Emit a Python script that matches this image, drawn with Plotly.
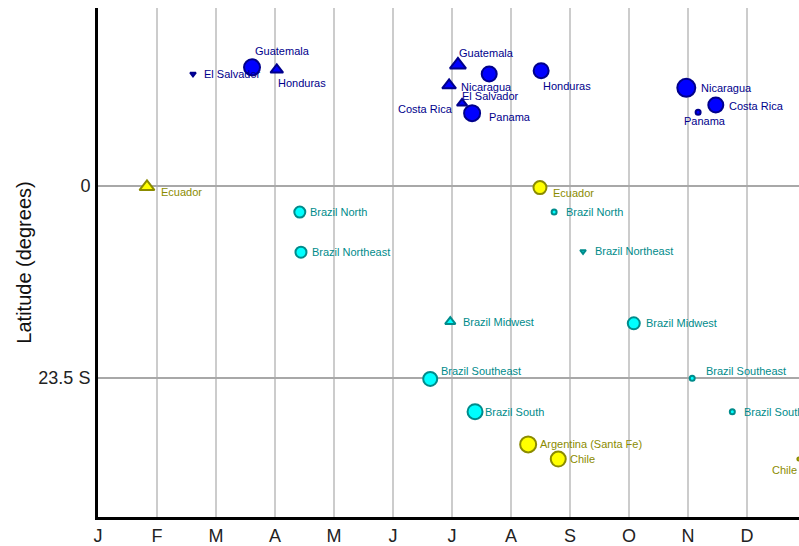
import plotly.graph_objects as go

# ---- data ----
month_labels = ["J", "F", "M", "A", "M", "J", "J", "A", "S", "O", "N", "D"]

names = ["El Salvador", "Guatemala", "Honduras",
         "Guatemala", "Nicaragua", "El Salvador", "Costa Rica", "Panama", "Honduras",
         "Nicaragua", "Costa Rica", "Panama",
         "Ecuador", "Ecuador",
         "Brazil North", "Brazil Northeast", "Brazil North", "Brazil Northeast",
         "Brazil Midwest", "Brazil Midwest", "Brazil Southeast", "Brazil Southeast",
         "Brazil South", "Brazil South",
         "Argentina (Santa Fe)", "Chile", "Chile"]
month = [1.61, 2.61, 3.03,
         6.10, 5.95, 6.63, 6.17, 6.34, 7.51,
         9.97, 10.47, 10.17,
         0.83, 7.49,
         3.42, 3.44, 7.73, 8.22,
         5.97, 9.08, 5.63, 10.07,
         6.39, 10.75,
         7.29, 7.80, 11.878]
lat = [13.7, 14.5, 14.2,
       14.8, 12.3, 13.7, 10.1, 8.9, 14.1,
       12.0, 9.9, 9.0,
       -0.1, -0.2,
       -3.2, -8.1, -3.2, -8.0,
       -16.6, -16.8, -23.6, -23.5,
       -27.6, -27.6,
       -31.6, -33.4, -33.4]
region = ["CA"] * 12 + ["Andes"] * 2 + ["Brazil"] * 10 + ["Andes"] * 3
kind = ["tri_down", "circle", "tri_up",
        "tri_up", "tri_up", "circle", "tri_up", "circle", "circle",
        "circle", "circle", "circle",
        "tri_up", "circle",
        "circle", "circle", "circle", "tri_down",
        "tri_up", "circle", "circle", "circle",
        "circle", "circle",
        "circle", "circle", "circle"]
weight = [5, 16, 11,
          14, 12, 15, 9, 16, 15,
          18, 15, 5,
          13, 13,
          11, 11, 5, 5,
          9, 12, 14, 5,
          15, 5,
          16, 15, 3]

# ---- styles ----
symbol_map = {"circle": "circle", "tri_up": "triangle-up", "tri_down": "triangle-down"}
fill_map = {"CA": "#0000FF", "Brazil": "#00FFFF", "Andes": "#FFFF00"}
edge_map = {"CA": "#00008B", "Brazil": "#008B8B", "Andes": "#8B8B00"}
# label placement offsets (pixels) and anchors
label_dx = [9, 1, -1,
            -1, 10, -29, -7, 15, 0,
            13, 11, 7,
            12, 11,
            8, 9, 10, 10,
            11, 10, 9, 12,
            8, 10,
            10, 10, 0]
label_dy = [0, 16, -13,
            12, -2, -22, -6, -4, -15,
            0, -1, -9,
            -5, -5,
            0, 0, 0, 0,
            0, 0, 8, 7,
            0, 0,
            0, 0, -11]
label_anchor = ["left", "left", "left",
                "left", "left", "left", "right", "left", "left",
                "left", "left", "center",
                "left", "left",
                "left", "left", "left", "left",
                "left", "left", "left", "left",
                "left", "left",
                "left", "left", "right"]

FONT = "Liberation Sans, Arial, sans-serif"

fig = go.Figure()
for reg in ["CA", "Brazil", "Andes"]:
    idx = [i for i, r in enumerate(region) if r == reg]
    fig.add_trace(go.Scatter(
        x=[month[i] for i in idx],
        y=[lat[i] for i in idx],
        mode="markers",
        marker=dict(
            symbol=[symbol_map[kind[i]] for i in idx],
            size=[weight[i] for i in idx],
            color=fill_map[reg],
            opacity=1,
            line=dict(color=edge_map[reg], width=2),
        ),
        hoverinfo="skip",
        showlegend=False,
    ))

for i, n in enumerate(names):
    fig.add_annotation(
        x=month[i], y=lat[i], text=n, showarrow=False,
        xanchor=label_anchor[i], yanchor="middle",
        xshift=label_dx[i], yshift=label_dy[i],
        font=dict(family=FONT, size=11, color=edge_map[region[i]]),
    )

fig.update_layout(
    width=799, height=546,
    margin=dict(l=98, r=0, t=8, b=26),
    plot_bgcolor="white", paper_bgcolor="white",
    font=dict(family=FONT, color="#222222"),
    showlegend=False,
    hovermode=False,
)
fig.update_xaxes(
    range=[0, 11.88],
    tickvals=list(range(12)), ticktext=month_labels,
    tickfont=dict(size=18, family=FONT, color="#222222"),
    showgrid=True, gridcolor="#cccccc", gridwidth=2,
    zeroline=False,
    showline=True, linecolor="black", linewidth=3,
    ticks="", ticklabelstandoff=0,
)
fig.update_yaxes(
    range=[-40.48, 21.76],
    tickvals=[0, -23.5], ticktext=["0", "23.5 S"],
    tickfont=dict(size=18, family=FONT, color="#222222"),
    showgrid=True, gridcolor="#a8a8a8", gridwidth=2,
    zeroline=False,
    showline=True, linecolor="black", linewidth=3,
    ticks="", ticklabelstandoff=1,
    title=dict(text="Latitude (degrees)", font=dict(size=20, family=FONT, color="#111111"), standoff=2),
)

fig.write_html(
    "out.html",
    config={"displayModeBar": False},
    post_script="document.body.style.margin='0';document.body.style.overflow='hidden';",
)
